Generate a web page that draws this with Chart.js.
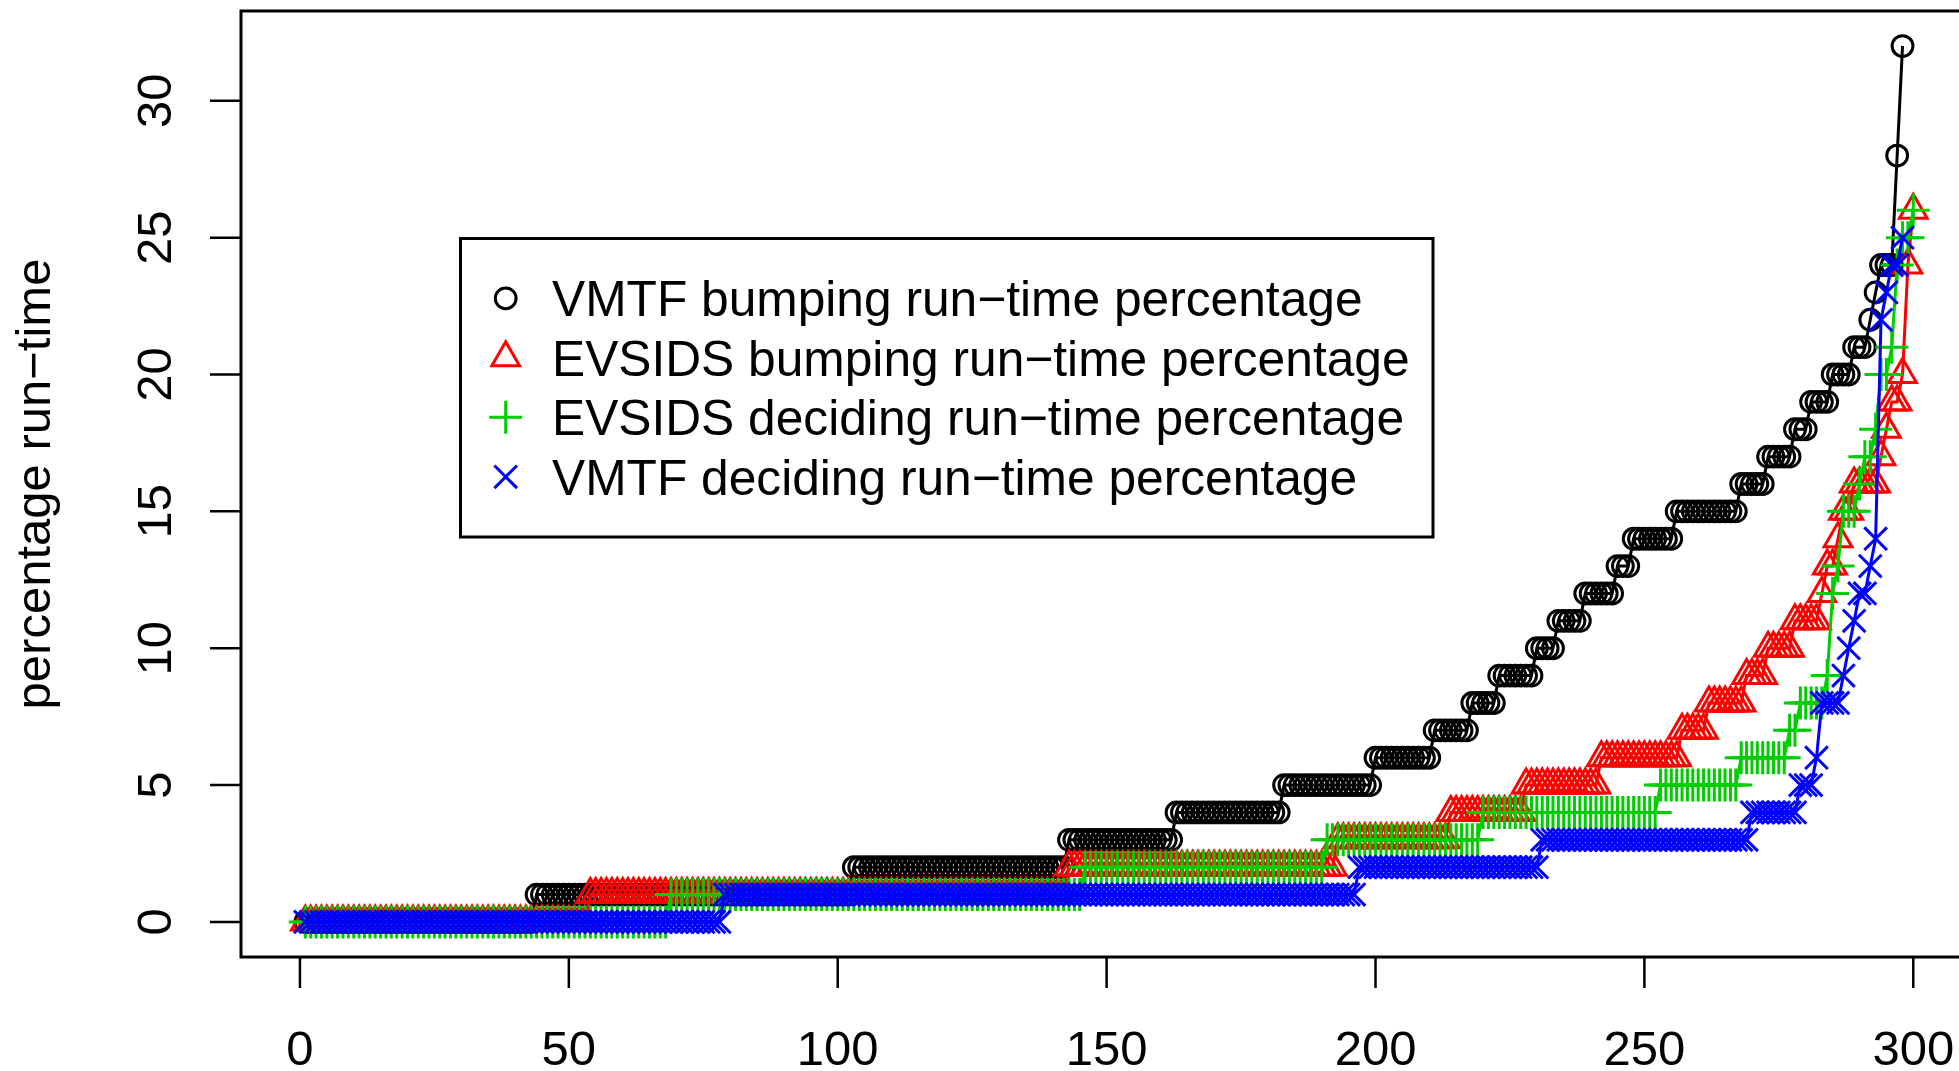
<!DOCTYPE html>
<html>
<head>
<meta charset="utf-8">
<title>Run-time percentage per instance</title>
<script src="https://cdn.jsdelivr.net/npm/chart.js@4.4.1/dist/chart.umd.min.js"></script>
<style>
  html, body { margin: 0; padding: 0; background: #fff; overflow: hidden; }
  canvas { display: block; }
</style>
</head>
<body>
<canvas id="chart" width="1959" height="1071"></canvas>
<script>
// Sorted run-time percentages, one value per instance (instance 1, 2, 3, ...)
const vmtfBumping = [
  0,0,0,0,0,0,0,0,0,0,
  0,0,0,0,0,0,0,0,0,0,
  0,0,0,0,0,0,0,0,0,0,
  0,0,0,0,0,0,0,0,0,0,
  0,0,0,1,1,1,1,1,1,1,
  1,1,1,1,1,1,1,1,1,1,
  1,1,1,1,1,1,1,1,1,1,
  1,1,1,1,1,1,1,1,1,1,
  1,1,1,1,1,1,1,1,1,1,
  1,1,1,1,1,1,1,1,1,1,
  1,1,2,2,2,2,2,2,2,2,
  2,2,2,2,2,2,2,2,2,2,
  2,2,2,2,2,2,2,2,2,2,
  2,2,2,2,2,2,2,2,2,2,
  2,2,3,3,3,3,3,3,3,3,
  3,3,3,3,3,3,3,3,3,3,
  3,3,4,4,4,4,4,4,4,4,
  4,4,4,4,4,4,4,4,4,4,
  4,4,5,5,5,5,5,5,5,5,
  5,5,5,5,5,5,5,5,5,6,
  6,6,6,6,6,6,6,6,6,6,
  7,7,7,7,7,7,7,8,8,8,
  8,8,9,9,9,9,9,9,9,10,
  10,10,10,11,11,11,11,11,12,12,
  12,12,12,12,13,13,13,14,14,14,
  14,14,14,14,14,15,15,15,15,15,
  15,15,15,15,15,15,15,16,16,16,
  16,16,17,17,17,17,17,18,18,18,
  19,19,19,19,20,20,20,20,21,21,
  21,22,23,24,24,24,28,32
];

const evsidsBumping = [
  0,0,0,0,0,0,0,0,0,0,
  0,0,0,0,0,0,0,0,0,0,
  0,0,0,0,0,0,0,0,0,0,
  0,0,0,0,0,0,0,0,0,0,
  0,0,0,0,0,0,0,0,0,0,
  0,0,0,1,1,1,1,1,1,1,
  1,1,1,1,1,1,1,1,1,1,
  1,1,1,1,1,1,1,1,1,1,
  1,1,1,1,1,1,1,1,1,1,
  1,1,1,1,1,1,1,1,1,1,
  1,1,1,1,1,1,1,1,1,1,
  1,1,1,1,1,1,1,1,1,1,
  1,1,1,1,1,1,1,1,1,1,
  1,1,1,1,1,1,1,1,1,1,
  1,1,2,2,2,2,2,2,2,2,
  2,2,2,2,2,2,2,2,2,2,
  2,2,2,2,2,2,2,2,2,2,
  2,2,2,2,2,2,2,2,2,2,
  2,2,2,2,2,2,2,2,2,2,
  2,2,3,3,3,3,3,3,3,3,
  3,3,3,3,3,3,3,3,3,3,
  3,3,3,4,4,4,4,4,4,4,
  4,4,4,4,4,4,4,5,5,5,
  5,5,5,5,5,5,5,5,5,5,
  5,6,6,6,6,6,6,6,6,6,
  6,6,6,6,6,6,7,7,7,7,
  7,8,8,8,8,8,8,8,9,9,
  9,9,10,10,10,10,10,11,11,11,
  11,11,12,13,13,14,15,15,16,16,
  16,16,16,17,18,19,19,20,24,26
];

const evsidsDeciding = [
  0,0,0,0,0,0,0,0,0,0,
  0,0,0,0,0,0,0,0,0,0,
  0,0,0,0,0,0,0,0,0,0,
  0,0,0,0,0,0,0,0,0,0,
  0,0,0,0,0,0,0,0,0,0,
  0,0,0,0,0,0,0,0,0,0,
  0,0,0,0,0,0,0,0,1,1,
  1,1,1,1,1,1,1,1,1,1,
  1,1,1,1,1,1,1,1,1,1,
  1,1,1,1,1,1,1,1,1,1,
  1,1,1,1,1,1,1,1,1,1,
  1,1,1,1,1,1,1,1,1,1,
  1,1,1,1,1,1,1,1,1,1,
  1,1,1,1,1,1,1,1,1,1,
  1,1,1,1,1,2,2,2,2,2,
  2,2,2,2,2,2,2,2,2,2,
  2,2,2,2,2,2,2,2,2,2,
  2,2,2,2,2,2,2,2,2,2,
  2,2,2,2,2,2,2,2,2,2,
  3,3,3,3,3,3,3,3,3,3,
  3,3,3,3,3,3,3,3,3,3,
  3,3,3,3,3,3,3,3,3,4,
  4,4,4,4,4,4,4,4,4,4,
  4,4,4,4,4,4,4,4,4,4,
  4,4,4,4,4,4,4,4,4,4,
  4,4,5,5,5,5,5,5,5,5,
  5,5,5,5,5,5,5,6,6,6,
  6,6,6,6,6,6,7,7,8,8,
  8,8,8,9,12,13,15,15,15,16,
  17,17,18,20,20,21,24,25,25,26
];

const vmtfDeciding = [
  0,0,0,0,0,0,0,0,0,0,
  0,0,0,0,0,0,0,0,0,0,
  0,0,0,0,0,0,0,0,0,0,
  0,0,0,0,0,0,0,0,0,0,
  0,0,0,0,0,0,0,0,0,0,
  0,0,0,0,0,0,0,0,0,0,
  0,0,0,0,0,0,0,0,0,0,
  0,0,0,0,0,0,0,0,1,1,
  1,1,1,1,1,1,1,1,1,1,
  1,1,1,1,1,1,1,1,1,1,
  1,1,1,1,1,1,1,1,1,1,
  1,1,1,1,1,1,1,1,1,1,
  1,1,1,1,1,1,1,1,1,1,
  1,1,1,1,1,1,1,1,1,1,
  1,1,1,1,1,1,1,1,1,1,
  1,1,1,1,1,1,1,1,1,1,
  1,1,1,1,1,1,1,1,1,1,
  1,1,1,1,1,1,1,1,1,1,
  1,1,1,1,1,1,1,1,1,1,
  1,1,1,1,1,1,2,2,2,2,
  2,2,2,2,2,2,2,2,2,2,
  2,2,2,2,2,2,2,2,2,2,
  2,2,2,2,2,2,2,2,2,2,
  3,3,3,3,3,3,3,3,3,3,
  3,3,3,3,3,3,3,3,3,3,
  3,3,3,3,3,3,3,3,3,3,
  3,3,3,3,3,3,3,3,3,4,
  4,4,4,4,4,4,4,4,5,5,
  5,6,8,8,8,8,9,10,11,12,
  12,13,14,22,23,24,24,25
];

const seriesLabels = [
  'VMTF bumping run\u2212time percentage',
  'EVSIDS bumping run\u2212time percentage',
  'EVSIDS deciding run\u2212time percentage',
  'VMTF deciding run\u2212time percentage'
];
const seriesColors = ['#000000', '#ff0000', '#00cd00', '#0000ff'];
const seriesStyles = ['circle', 'triangle', 'cross', 'crossRot'];
const seriesRadius = [10.4, 16, 16.5, 16];

const xTicks = [0, 50, 100, 150, 200, 250, 300];
const yTicks = [0, 5, 10, 15, 20, 25, 30];
const yTitle = 'percentage run\u2212time';

const FONT = '"Liberation Sans", Arial, Helvetica, sans-serif';

function toPoints(values) {
  // x is the instance number, starting at 1
  return values.map((v, i) => ({ x: i + 1, y: v }));
}

const allSeries = [vmtfBumping, evsidsBumping, evsidsDeciding, vmtfDeciding];

const datasets = allSeries.map((values, k) => ({
  label: seriesLabels[k],
  data: toPoints(values),
  showLine: true,
  borderColor: seriesColors[k],
  borderWidth: 3,
  backgroundColor: 'rgba(0,0,0,0)',
  pointStyle: seriesStyles[k],
  pointRadius: seriesRadius[k],
  pointBorderWidth: 3,
  pointBorderColor: seriesColors[k],
  pointBackgroundColor: 'rgba(0,0,0,0)',
  tension: 0,
  // first series at the bottom, last one on top (like points() calls in R)
  order: allSeries.length - 1 - k
}));

function drawMarker(ctx, style, radius, color, x, y) {
  ctx.save();
  ctx.strokeStyle = color;
  ctx.fillStyle = 'rgba(0,0,0,0)';
  ctx.lineWidth = 3;
  if (Chart.helpers && Chart.helpers.drawPoint) {
    Chart.helpers.drawPoint(ctx, { pointStyle: style, radius: radius, borderWidth: 3, rotation: 0 }, x, y);
  } else {
    ctx.beginPath();
    ctx.arc(x, y, radius, 0, Math.PI * 2);
    ctx.stroke();
  }
  ctx.restore();
}

// R style frame: box, outward ticks, rotated y labels, legend inside the plot
const rFrame = {
  id: 'rFrame',
  afterDraw(chart) {
    const ctx = chart.ctx;
    const a = chart.chartArea;
    const xs = chart.scales.x;
    const ys = chart.scales.y;

    ctx.save();
    ctx.strokeStyle = '#000';
    ctx.fillStyle = '#000';

    // box (right side falls outside the picture)
    ctx.lineWidth = 3;
    ctx.strokeRect(a.left, a.top, a.right - a.left + 40, a.bottom - a.top);

    // tick marks
    ctx.lineWidth = 2.5;
    ctx.beginPath();
    xTicks.forEach(v => {
      const px = xs.getPixelForValue(v);
      ctx.moveTo(px, a.bottom);
      ctx.lineTo(px, a.bottom + 31);
    });
    yTicks.forEach(v => {
      const py = ys.getPixelForValue(v);
      ctx.moveTo(a.left, py);
      ctx.lineTo(a.left - 31, py);
    });
    ctx.stroke();

    // tick labels
    ctx.font = '49px ' + FONT;
    ctx.textAlign = 'center';
    ctx.textBaseline = 'alphabetic';
    xTicks.forEach(v => {
      ctx.fillText(String(v), xs.getPixelForValue(v), 1065);
    });
    yTicks.forEach(v => {
      ctx.save();
      ctx.translate(171, ys.getPixelForValue(v));
      ctx.rotate(-Math.PI / 2);
      ctx.fillText(String(v), 0, 0);
      ctx.restore();
    });

    // y axis title
    ctx.save();
    ctx.translate(50, (a.top + a.bottom) / 2);
    ctx.rotate(-Math.PI / 2);
    ctx.fillText(yTitle, 0, 0);
    ctx.restore();

    // legend
    ctx.lineWidth = 3;
    ctx.fillStyle = '#fff';
    ctx.fillRect(460.5, 238.5, 972.5, 298.5);
    ctx.strokeRect(460.5, 238.5, 972.5, 298.5);
    ctx.fillStyle = '#000';
    ctx.textAlign = 'left';
    ctx.font = '49.7px ' + FONT;
    seriesLabels.forEach((label, k) => {
      const rowY = 298.3 + k * 59.5;
      drawMarker(ctx, seriesStyles[k], seriesRadius[k], seriesColors[k], 505.7, rowY);
      ctx.fillText(label, 552, rowY + 18);
    });

    ctx.restore();
  }
};

new Chart(document.getElementById('chart').getContext('2d'), {
  type: 'scatter',
  data: { datasets: datasets },
  options: {
    responsive: false,
    animation: false,
    devicePixelRatio: 1,
    layout: {
      autoPadding: false,
      padding: { left: 241, top: 11, right: 0, bottom: 114 }
    },
    scales: {
      x: { type: 'linear', display: false, min: -10.96, max: 308.5 },
      y: { type: 'linear', display: false, min: -1.28, max: 33.28 }
    },
    plugins: {
      legend: { display: false },
      tooltip: { enabled: false }
    }
  },
  plugins: [rFrame]
});
</script>
</body>
</html>
